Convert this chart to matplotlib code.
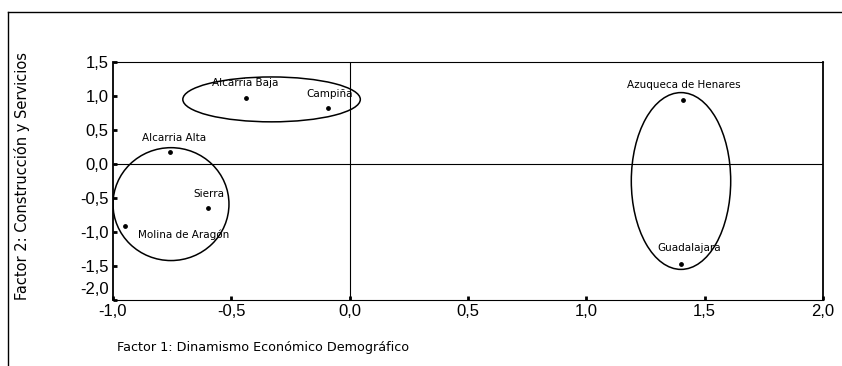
import matplotlib.pyplot as plt
import matplotlib.transforms as mtransforms
from matplotlib.patches import Ellipse

plt.rcParams['font.family'] = ['Liberation Sans', 'DejaVu Sans']

# Factor scores per comarca
names = ['Alcarria Baja', 'Campiña', 'Alcarria Alta', 'Sierra',
         'Molina de Aragón', 'Azuqueca de Henares', 'Guadalajara']
factor1 = [-0.44, -0.09, -0.76, -0.60, -0.95, 1.41, 1.40]
factor2 = [0.97, 0.82, 0.18, -0.65, -0.91, 0.94, -1.47]

# Label offsets in points (dx, dy)
label_offsets = [(0, 10.5), (1, 10.5), (3, 10), (1, 10), (42, -6.5), (0, 11), (6, 11.5)]

# Groups (centre x, centre y, width, height)
group_x = [-0.33, -0.755, 1.40]
group_y = [0.95, -0.59, -0.25]
group_w = [0.75, 0.49, 0.42]
group_h = [0.66, 1.66, 2.60]

x_ticks = [-1.0, -0.5, 0.0, 0.5, 1.0, 1.5, 2.0]
y_ticks = [1.5, 1.0, 0.5, 0.0, -0.5, -1.0, -1.5, -2.0]

fig = plt.figure(figsize=(8.42, 3.66), dpi=100)
ax = fig.add_axes([113 / 842, 66 / 366, (823 - 113) / 842, (300 - 62) / 366])

# outer frame lines
fig.add_artist(plt.Line2D([8 / 842, 1], [1 - 12 / 366, 1 - 12 / 366], color='black', lw=1))
fig.add_artist(plt.Line2D([8 / 842, 8 / 842], [0, 1 - 12 / 366], color='black', lw=1))

ax.axhline(0, color='black', lw=0.8)
ax.axvline(0, color='black', lw=0.8)

ax.scatter(factor1, factor2, s=6, color='black', zorder=3)
for n, x, y, (dx, dy) in zip(names, factor1, factor2, label_offsets):
    ax.annotate(n, (x, y), xytext=(dx, dy), textcoords='offset points',
                ha='center', va='center', fontsize=7.5, family='DejaVu Sans')

for cx, cy, w, h in zip(group_x, group_y, group_w, group_h):
    ax.add_patch(Ellipse((cx, cy), w, h, fill=False, edgecolor='black', lw=1.1))

ax.set_xlim(-1.0, 2.0)
ax.set_ylim(-2.0, 1.5)
ax.set_xticks(x_ticks)
ax.set_yticks(y_ticks)
ax.set_xticklabels([f'{v:.1f}'.replace('.', ',') for v in x_ticks], fontsize=12)
ax.set_yticklabels([f'{v:.1f}'.replace('.', ',') for v in y_ticks], fontsize=12)
ax.tick_params(direction='in', length=3, width=2, pad=3)

# lowest y label sits a little higher, clear of the x labels
low = ax.get_yticklabels()[-1]
low.set_transform(low.get_transform() + mtransforms.ScaledTranslation(0, 9 / 72, fig.dpi_scale_trans))

for s in ax.spines.values():
    s.set_linewidth(0.8)
ax.spines['left'].set_linewidth(1.3)
ax.spines['right'].set_linewidth(1.3)

fig.text(117 / 842, 1 - 347 / 366, 'Factor 1: Dinamismo Económico Demográfico',
         fontsize=9.2, va='center', ha='left', family='DejaVu Sans')
fig.text(22 / 842, 1 - 176 / 366, 'Factor 2: Construcción y Servicios',
         fontsize=10.5, va='center', ha='center', rotation=90, family='DejaVu Sans')

fig.savefig('out.png', dpi=100)
